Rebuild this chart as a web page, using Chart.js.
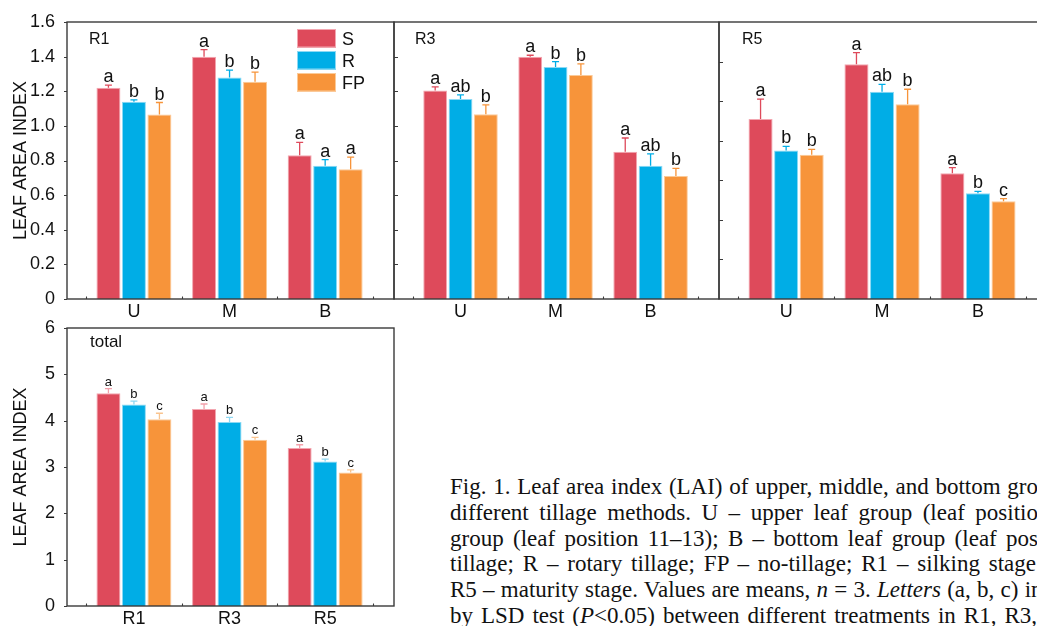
<!DOCTYPE html>
<html>
<head>
<meta charset="utf-8">
<script src="https://cdn.jsdelivr.net/npm/chart.js@4.4.0/dist/chart.umd.min.js"></script>
<style>
  html, body { margin: 0; padding: 0; background: #fff; }
  #fig { position: relative; width: 1037px; height: 626px; overflow: hidden; background: #fff; }
  #fig canvas { position: absolute; }
  #caption {
    position: absolute; left: 450px; top: 474px;
    font-family: "Liberation Serif", "Times New Roman", serif;
    font-size: 23px; line-height: 25.8px; color: #111; white-space: nowrap;
  }
  #caption div { white-space: nowrap; }
</style>
</head>
<body>
<div id="fig">
  <canvas id="pR1" width="400" height="326" style="left:0;top:0"></canvas>
  <canvas id="pR3" width="345" height="326" style="left:380px;top:0"></canvas>
  <canvas id="pR5" width="350" height="326" style="left:705px;top:0"></canvas>
  <canvas id="pTotal" width="400" height="320" style="left:0;top:310px"></canvas>
  <div id="caption"></div>
</div>
<script>
// Leaf groups (upper, middle, bottom) and growth stages
const groups = ['U', 'M', 'B'];
const stages = ['R1', 'R3', 'R5'];
const treatments = ['S', 'R', 'FP'];

// R1 – silking stage
const r1S = [1.22, 1.40, 0.83];
const r1R = [1.14, 1.28, 0.77];
const r1FP = [1.065, 1.255, 0.75];
const r1SErr = [0.015, 0.04, 0.075];
const r1RErr = [0.01, 0.042, 0.035];
const r1FPErr = [0.07, 0.055, 0.07];
const r1SLetters = ['a', 'a', 'a'];
const r1RLetters = ['b', 'b', 'a'];
const r1FPLetters = ['b', 'b', 'a'];

// R3
const r3S = [1.205, 1.40, 0.85];
const r3R = [1.155, 1.34, 0.77];
const r3FP = [1.067, 1.294, 0.71];
const r3SErr = [0.02, 0.008, 0.08];
const r3RErr = [0.024, 0.031, 0.068];
const r3FPErr = [0.054, 0.064, 0.044];
const r3SLetters = ['a', 'a', 'a'];
const r3RLetters = ['ab', 'b', 'ab'];
const r3FPLetters = ['b', 'b', 'b'];

// R5 – maturity stage
const r5S = [0.91, 1.186, 0.635];
const r5R = [0.751, 1.048, 0.534];
const r5FP = [0.729, 0.984, 0.494];
const r5SErr = [0.10, 0.059, 0.029];
const r5RErr = [0.02, 0.037, 0.01];
const r5FPErr = [0.027, 0.076, 0.013];
const r5SLetters = ['a', 'a', 'a'];
const r5RLetters = ['b', 'ab', 'b'];
const r5FPLetters = ['b', 'b', 'c'];

// Whole-plant LAI per stage
const totalS = [4.59, 4.25, 3.41];
const totalR = [4.35, 3.97, 3.12];
const totalFP = [4.03, 3.59, 2.88];
const totalSErr = [0.10, 0.11, 0.07];
const totalRErr = [0.07, 0.10, 0.05];
const totalFPErr = [0.13, 0.05, 0.06];
const totalSLetters = ['a', 'a', 'a'];
const totalRLetters = ['b', 'b', 'b'];
const totalFPLetters = ['c', 'c', 'c'];

// Figure caption, one justified line per entry: text up to the frame edge, then the rest of the word
const captionLines = [
  { html: 'Fig. 1. Leaf area index (LAI) of upper, middle, and bottom gro', rest: 'ups', end: 1038 },
  { html: 'different tillage methods. U – upper leaf group (leaf positio', rest: 'n', end: 1038 },
  { html: 'group (leaf position 11–13); B – bottom leaf group (leaf pos', rest: 'ition', end: 1038 },
  { html: 'tillage; R – rotary tillage; FP – no-tillage; R1 – silking stage', rest: '', end: 1036 },
  { html: 'R5 – maturity stage. Values are means, <i>n</i> = 3. <i>Letters</i> (a, b, c) i', rest: 'n', end: 1031 },
  { html: 'by LSD test (<i>P</i>&lt;0.05) between different treatments in R1, R3,', rest: '', end: 1037 }
];
const captionLeft = 450;

const fillColors = ['#DE4A5B', '#00ADE6', '#F7943A'];
const edgeColors = ['#F3A6B0', '#8CD9F4', '#FBCA98'];
const paleErrColors = ['#F2A0AA', '#8ED7F2', '#F9C48F'];
const sansFamily = '"Liberation Sans", Arial, Helvetica, sans-serif';
const inkColor = '#111';

// Frame, tick marks, error bars, significance letters, panel tag and legend
const panelDecor = {
  id: 'panelDecor',
  afterDatasetsDraw(chart, args, opts) {
    const { ctx, chartArea: a, scales: { x, y } } = chart;
    ctx.save();

    chart.data.datasets.forEach((ds, di) => {
      const meta = chart.getDatasetMeta(di);
      meta.data.forEach((bar, i) => {
        const v = ds.data[i].y;
        const top = y.getPixelForValue(v + ds.err[i]);
        const base = y.getPixelForValue(v);
        ctx.strokeStyle = ds.errColor;
        ctx.lineWidth = 1.3;
        ctx.beginPath();
        ctx.moveTo(bar.x, base);
        ctx.lineTo(bar.x, top);
        ctx.moveTo(bar.x - 3.5, top);
        ctx.lineTo(bar.x + 3.5, top);
        ctx.stroke();
        ctx.fillStyle = inkColor;
        ctx.font = opts.letterSize + 'px ' + sansFamily;
        ctx.textAlign = 'center';
        ctx.textBaseline = 'alphabetic';
        ctx.fillText(ds.letters[i], bar.x, top - 3);
      });
    });

    ctx.strokeStyle = '#3a3a3a';
    ctx.lineWidth = 1.4;
    ctx.strokeRect(a.left, a.top, a.right - a.left, a.bottom - a.top);

    ctx.lineWidth = 1.1;
    ctx.beginPath();
    y.ticks.forEach(t => {
      const py = Math.round(y.getPixelForValue(t.value)) + 0.5;
      if (opts.ticksOut) {
        ctx.moveTo(a.left - 3, py);
        ctx.lineTo(a.left, py);
      } else if (t.value > 0 && t.value < y.max) {
        ctx.moveTo(a.left, py);
        ctx.lineTo(a.left + 4, py);
      }
    });
    [-0.5, 0.5, 1.5, 2.5].forEach(k => {
      const px = Math.round(x.getPixelForValue(k)) + 0.5;
      ctx.moveTo(px, a.bottom);
      ctx.lineTo(px, a.bottom - 2.5);
    });
    ctx.stroke();

    ctx.fillStyle = inkColor;
    ctx.textAlign = 'left';
    ctx.textBaseline = 'alphabetic';
    ctx.font = opts.tagSize + 'px ' + sansFamily;
    ctx.fillText(opts.tag, a.left + opts.tagDx, a.top + opts.tagDy);

    if (opts.legend) {
      const bx = a.right - 97, by = a.top + 7;
      chart.data.datasets.forEach((ds, di) => {
        const yy = by + di * 22;
        ctx.fillStyle = ds.backgroundColor;
        ctx.fillRect(bx, yy, 39, 18.5);
        ctx.strokeStyle = ds.borderColor;
        ctx.lineWidth = 1;
        ctx.strokeRect(bx + 0.5, yy + 0.5, 38, 17.5);
        ctx.fillStyle = inkColor;
        ctx.font = '18px ' + sansFamily;
        ctx.fillText(ds.label, bx + 45, yy + 15.5);
      });
    }
    ctx.restore();
  }
};

function buildPanel(id, cfg) {
  return new Chart(document.getElementById(id), {
    type: 'bar',
    data: {
      datasets: treatments.map((t, k) => ({
        label: t,
        data: cfg.values[k].map((v, i) => ({ x: i, y: v })),
        err: cfg.errs[k],
        letters: cfg.letters[k],
        errColor: cfg.errColors[k],
        backgroundColor: fillColors[k],
        borderColor: edgeColors[k],
        borderWidth: 1,
        categoryPercentage: 0.8,
        barPercentage: 0.94
      }))
    },
    options: {
      responsive: false,
      animation: false,
      devicePixelRatio: 1,
      events: [],
      layout: { padding: cfg.padding },
      plugins: {
        legend: { display: false },
        tooltip: { enabled: false },
        panelDecor: cfg.decor
      },
      scales: {
        x: {
          type: 'linear',
          offset: false,
          min: -0.7,
          max: 2.72,
          grid: { display: false, offset: false },
          border: { display: false },
          afterBuildTicks: s => { s.ticks = cfg.cats.map((c, i) => ({ value: i })); },
          afterFit: s => { s.height = cfg.xHeight; },
          ticks: {
            callback: v => cfg.cats[v],
            font: { family: sansFamily, size: 18 },
            color: inkColor,
            padding: -6,
            maxRotation: 0,
            autoSkip: false
          }
        },
        y: {
          min: 0,
          max: cfg.yMax,
          grid: { display: false },
          border: { display: false },
          afterFit: s => { s.width = cfg.yWidth; },
          ticks: {
            display: cfg.yLabels,
            stepSize: cfg.yStep,
            callback: v => (v === 0 ? '0' : v.toFixed(cfg.yDec)),
            font: { family: sansFamily, size: 18 },
            color: inkColor,
            padding: 4
          },
          title: {
            display: cfg.yLabels,
            text: 'LEAF AREA INDEX',
            font: { family: sansFamily, size: 18 },
            color: inkColor,
            padding: { top: 10, bottom: 0 }
          }
        }
      }
    },
    plugins: [panelDecor]
  });
}

buildPanel('pR1', {
  cats: groups, values: [r1S, r1R, r1FP], errs: [r1SErr, r1RErr, r1FPErr],
  letters: [r1SLetters, r1RLetters, r1FPLetters], errColors: fillColors,
  yMax: 1.6, yStep: 0.2, yDec: 1, yLabels: true, yWidth: 67, xHeight: 27,
  padding: { left: 0, top: 22, right: 6, bottom: 0 },
  decor: { tag: 'R1', tagSize: 16, tagDx: 22, tagDy: 22, letterSize: 18, ticksOut: true, legend: true }
});

buildPanel('pR3', {
  cats: groups, values: [r3S, r3R, r3FP], errs: [r3SErr, r3RErr, r3FPErr],
  letters: [r3SLetters, r3RLetters, r3FPLetters], errColors: fillColors,
  yMax: 1.6, yStep: 0.2, yDec: 1, yLabels: false, yWidth: 14, xHeight: 27,
  padding: { left: 0, top: 22, right: 6, bottom: 0 },
  decor: { tag: 'R3', tagSize: 16, tagDx: 21, tagDy: 22, letterSize: 18, ticksOut: false, legend: false }
});

buildPanel('pR5', {
  cats: groups, values: [r5S, r5R, r5FP], errs: [r5SErr, r5RErr, r5FPErr],
  letters: [r5SLetters, r5RLetters, r5FPLetters], errColors: fillColors,
  yMax: 1.4, yStep: 0.2, yDec: 1, yLabels: false, yWidth: 14, xHeight: 27,
  padding: { left: 0, top: 22, right: 8, bottom: 0 },
  decor: { tag: 'R5', tagSize: 16, tagDx: 23, tagDy: 22, letterSize: 18, ticksOut: false, legend: false }
});

buildPanel('pTotal', {
  cats: stages, values: [totalS, totalR, totalFP], errs: [totalSErr, totalRErr, totalFPErr],
  letters: [totalSLetters, totalRLetters, totalFPLetters], errColors: paleErrColors,
  yMax: 6, yStep: 1, yDec: 0, yLabels: true, yWidth: 67, xHeight: 24,
  padding: { left: 0, top: 18, right: 6, bottom: 0 },
  decor: { tag: 'total', tagSize: 17, tagDx: 23, tagDy: 19, letterSize: 13, ticksOut: true, legend: false }
});

// Caption: justify each line by spreading its word gaps up to the line's end point
const caption = document.getElementById('caption');
captionLines.forEach(line => {
  const row = document.createElement('div');
  const head = document.createElement('span');
  head.innerHTML = line.html;
  row.appendChild(head);
  row.appendChild(document.createTextNode(line.rest));
  caption.appendChild(row);
  const natural = head.getBoundingClientRect().width;
  const gaps = (head.textContent.match(/ /g) || []).length;
  const spread = (line.end - captionLeft - natural) / Math.max(gaps, 1);
  row.style.wordSpacing = spread.toFixed(2) + 'px';
});
</script>
</body>
</html>
